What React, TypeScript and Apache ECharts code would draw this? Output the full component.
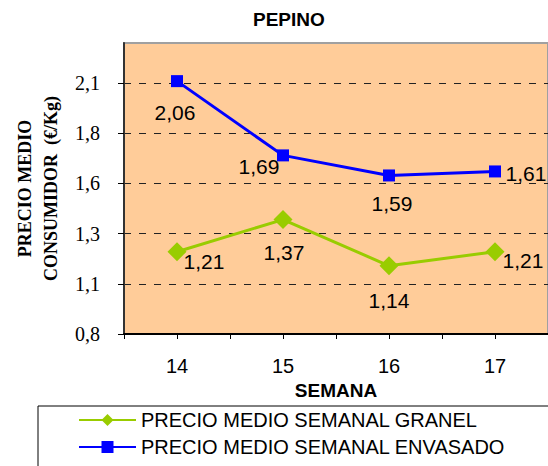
import React, { useEffect, useRef } from 'react';
import * as echarts from 'echarts';

const categories = ['14', '15', '16', '17'];
const granel = [1.21, 1.37, 1.14, 1.21];
const envasado = [2.06, 1.69, 1.59, 1.61];
const yTickValues = [0.8, 1.05, 1.3, 1.55, 1.8, 2.05];
const seriesNames = ['PRECIO MEDIO SEMANAL GRANEL', 'PRECIO MEDIO SEMANAL ENVASADO'];
const titleText = 'PEPINO';
const xName = 'SEMANA';
const yName = 'PRECIO MEDIO\nCONSUMIDOR  (€/Kg)';

// label placement (layout, not data)
const granelLabelOffsets = [[27, 10], [1, 33], [0, 35], [28, 9]];
const envasadoLabelOffsets = [[-2, 31], [-24, 11], [3, 28], [31, 2]];

const SANS = "Arial, 'Liberation Sans', sans-serif";
const SERIF = "'Times New Roman', 'Liberation Serif', serif";

const fmtTick = (v: number) => (Math.round(v * 10) / 10).toFixed(1).replace('.', ',');
const fmtVal = (v: number) => v.toFixed(2).replace('.', ',');

export default function App() {
  const ref = useRef<HTMLDivElement>(null);
  useEffect(() => {
    if (!ref.current) return;
    const chart = echarts.init(ref.current, undefined, { renderer: 'svg' });
    const mk = (vals: number[], offs: number[][]) =>
      vals.map((v, i) => ({ value: v, label: { offset: offs[i] } }));
    const labelBase = {
      show: true,
      position: 'inside',
      color: '#000',
      fontSize: 21,
      fontFamily: SANS,
      formatter: (p: any) => fmtVal(p.value),
    };
    chart.setOption({
      animation: false,
      backgroundColor: '#fff',
      title: {
        text: titleText,
        left: 253,
        top: 10,
        padding: 0,
        textStyle: { fontFamily: SANS, fontWeight: 'bold', fontSize: 19, color: '#000' },
      },
      grid: {
        left: 124,
        top: 43,
        width: 426,
        height: 291,
        show: true,
        backgroundColor: '#FFCC99',
        borderColor: '#A0A0A0',
        borderWidth: 2,
      },
      legend: {
        orient: 'vertical',
        left: 78,
        top: 410,
        padding: 0,
        itemWidth: 57,
        itemHeight: 15,
        itemGap: 7,
        data: seriesNames,
        textStyle: { fontFamily: SANS, fontSize: 20, color: '#000', lineHeight: 20 },
      },
      xAxis: [
        {
          type: 'category',
          data: categories,
          position: 'bottom',
          boundaryGap: true,
          name: xName,
          nameLocation: 'middle',
          nameGap: 46,
          nameTextStyle: { fontFamily: SANS, fontWeight: 'bold', fontSize: 19, color: '#000' },
          axisLine: { lineStyle: { color: '#000', width: 2 } },
          axisTick: { show: true, length: 5, lineStyle: { color: '#000' } },
          axisLabel: { fontFamily: SANS, fontSize: 20, color: '#000', margin: 22 },
          splitLine: { show: false },
        },
        {
          type: 'category',
          data: categories,
          position: 'bottom',
          boundaryGap: true,
          axisLine: { show: false },
          axisTick: { show: true, alignWithLabel: true, length: 5, lineStyle: { color: '#000' } },
          axisLabel: { show: false },
          splitLine: { show: false },
        },
      ],
      yAxis: {
        type: 'value',
        min: 0.8,
        max: 2.25,
        name: yName,
        nameLocation: 'middle',
        nameRotate: 90,
        nameGap: 60,
        nameTextStyle: {
          fontFamily: SERIF,
          fontWeight: 'bold',
          fontSize: 18,
          lineHeight: 26,
          color: '#000',
          align: 'center',
        },
        axisLine: { show: true, lineStyle: { color: '#333', width: 2 } },
        axisTick: { show: true, length: 6, customValues: yTickValues, lineStyle: { color: '#000' } },
        axisLabel: {
          customValues: yTickValues,
          fontFamily: SERIF,
          fontSize: 20,
          color: '#000',
          margin: 24,
          formatter: (v: number) => fmtTick(v),
        },
        splitLine: { show: true, lineStyle: { color: '#222', width: 1, type: [7, 8] } },
      },
      graphic: [
        {
          type: 'rect',
          shape: { x: 38, y: 406, width: 600, height: 120 },
          style: { fill: 'none', stroke: '#000', lineWidth: 1 },
          z: 100,
        },
      ],
      series: [
        {
          name: seriesNames[0],
          type: 'line',
          xAxisIndex: 0,
          data: mk(granel, granelLabelOffsets),
          symbol: 'diamond',
          symbolSize: 19,
          lineStyle: { color: '#99CC00', width: 3 },
          itemStyle: { color: '#99CC00' },
          label: labelBase,
          z: 3,
        },
        {
          name: seriesNames[1],
          type: 'line',
          xAxisIndex: 0,
          data: mk(envasado, envasadoLabelOffsets),
          symbol: 'rect',
          symbolSize: 12,
          lineStyle: { color: '#0000FF', width: 3 },
          itemStyle: { color: '#0000FF' },
          label: labelBase,
          z: 3,
        },
      ],
    });
    return () => chart.dispose();
  }, []);
  return (
    <div
      ref={ref}
      style={{ position: 'fixed', left: 0, top: 0, width: 548, height: 466 }}
    />
  );
}
